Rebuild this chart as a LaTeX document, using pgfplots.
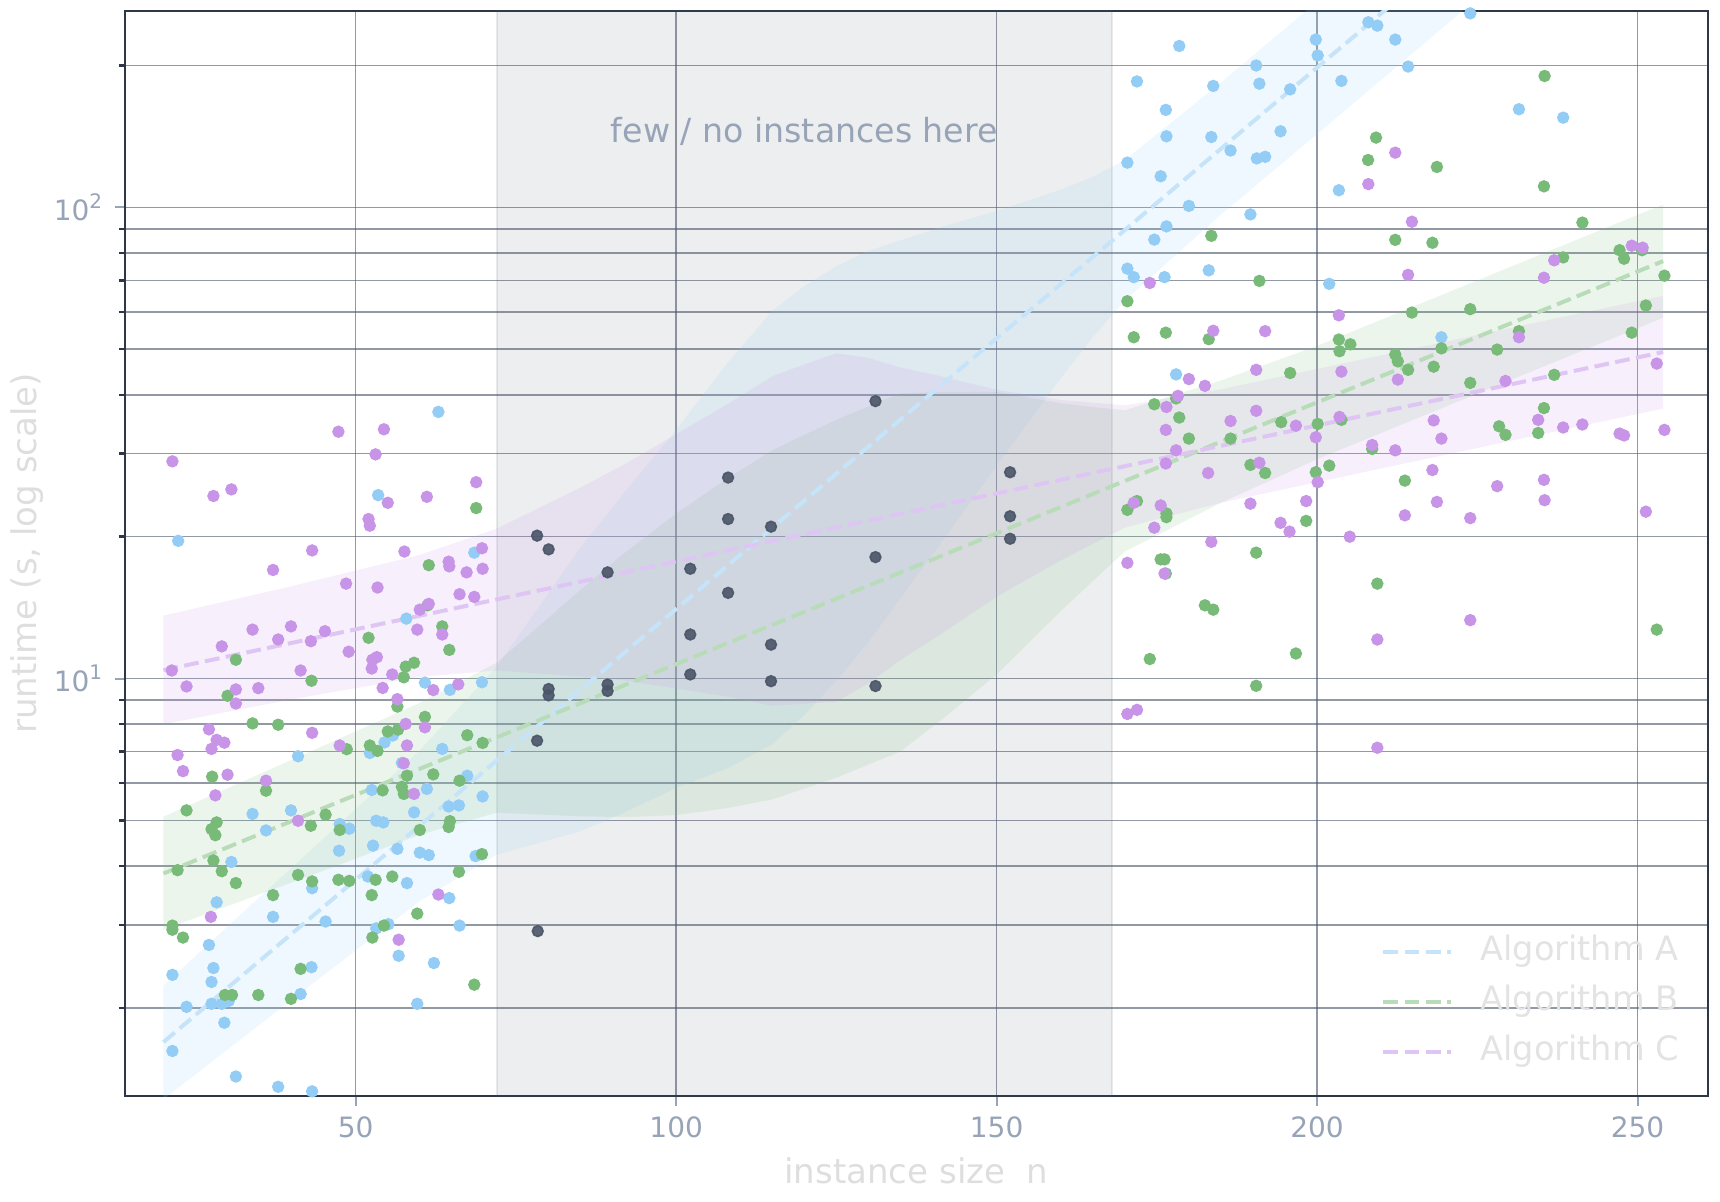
\documentclass[border=0pt]{standalone}
\usepackage{fontspec}
\setmainfont{DejaVu Sans}
\usepackage{pgfplots}
\usepackage{pgfplotstable}
\pgfplotsset{compat=1.18}
\definecolor{ptA}{HTML}{93CDF5}
\definecolor{ptB}{HTML}{78BB78}
\definecolor{ptC}{HTML}{C894E8}
\definecolor{lnA}{HTML}{C5E4FA}
\definecolor{lnB}{HTML}{B8DCB8}
\definecolor{lnC}{HTML}{DEC5F4}
\definecolor{dark}{HTML}{4A5568}
\definecolor{spine}{HTML}{2D3748}
\definecolor{ticklab}{HTML}{97A3B6}
\definecolor{labc}{HTML}{DEDEDE}
\definecolor{legc}{HTML}{E3E3E3}
\definecolor{annot}{HTML}{97A3B6}

\pgfplotstableread{
x y
21.4 2.35
21.4 1.62
23.6 2.01
27.1 2.72
27.8 2.43
27.5 2.27
27.5 2.04
29.1 2.04
30.2 2.07
29.5 1.86
28.3 3.35
30.6 4.08
31.3 1.43
33.9 5.16
36.0 4.76
37.1 3.12
37.9 1.36
39.9 5.25
41.0 6.84
41.4 2.14
43.1 2.44
43.2 3.59
43.2 1.33
45.3 3.05
47.4 4.31
47.5 4.91
49.0 4.80
51.9 3.80
52.2 6.95
52.5 5.80
52.7 4.42
53.2 4.99
54.3 4.95
53.2 2.95
55.1 3.01
54.5 7.32
55.8 7.57
56.5 4.35
56.7 2.58
57.2 6.62
58.0 3.68
59.1 5.20
59.6 2.04
60.0 4.27
61.4 4.22
61.1 5.83
62.2 2.49
63.5 7.09
64.5 5.35
64.6 3.42
66.1 5.38
66.2 2.99
67.4 6.22
68.7 4.20
69.8 5.62
62.9 36.8
22.3 19.6
53.5 24.5
57.9 13.4
68.5 18.5
60.8 9.8
64.7 9.46
69.7 9.82
178.5 220
171.9 185
176.4 161
176.5 141.5
170.4 124.4
175.6 116.4
180.0 100.7
183.8 181
183.5 141
186.5 132
190.5 200
191.0 183
195.8 178
194.3 145
190.6 127
191.9 128
189.6 96.6
176.5 91.1
174.6 85.4
170.4 74.1
171.4 71.1
176.2 71.1
183.1 73.5
178.0 44.2
199.8 227
200.1 210
203.8 185.5
208.0 247
209.4 243
212.2 227
214.2 199
203.4 108.7
201.9 68.8
219.4 53.0
231.5 161.5
238.4 155
223.9 258
}\tblA

\pgfplotstableread{
x y
21.4 2.99
21.4 2.93
23.05 2.82
22.2 3.92
23.6 5.25
27.6 6.19
28.3 4.95
27.5 4.79
28.1 4.65
27.8 4.11
29.1 3.90
31.3 3.68
33.9 8.03
37.9 7.98
36.0 5.78
37.1 3.47
41.0 3.83
41.4 2.42
43.0 4.87
43.2 3.71
45.3 5.14
47.5 4.77
47.3 3.74
49.0 3.72
48.6 7.08
52.2 7.21
53.4 7.02
52.5 3.47
53.1 3.74
52.6 2.82
54.4 2.99
54.2 5.79
55.0 7.72
56.6 7.79
56.5 8.72
55.7 3.80
57.2 5.89
57.5 5.69
58.0 6.22
59.6 3.17
60.0 4.77
60.8 8.29
62.1 6.26
64.5 4.84
64.7 4.98
66.1 3.89
66.2 6.07
67.4 7.58
68.5 2.24
69.8 7.30
69.7 4.24
29.6 2.13
30.7 2.13
34.8 2.13
39.9 2.09
68.8 23.0
61.4 17.4
63.5 12.9
64.6 11.5
52.0 12.2
43.1 9.89
31.3 10.96
30.0 9.19
57.8 10.6
59.1 10.8
57.5 10.06
61.2 14.3
235.5 190
209.2 140.6
207.96 126
218.7 121.8
235.4 110.8
183.5 87
241.4 92.8
212.2 85.3
218.0 84.1
238.4 78.3
247.2 81.1
247.9 77.8
250.7 81.1
254.2 71.6
191.0 69.8
170.4 63.2
251.3 61.9
214.8 59.8
223.9 60.8
171.4 53.0
176.4 54.2
183.1 52.5
231.5 54.6
249.1 54.2
203.4 52.4
205.2 51.2
203.5 49.5
219.4 50.2
228.1 49.9
212.2 48.7
212.6 47.1
214.2 45.2
218.2 45.9
195.8 44.5
223.9 42.4
237.0 44.1
174.6 38.2
178.0 39.3
178.5 35.8
180.0 32.3
186.5 32.3
194.4 35.0
200.1 34.7
203.8 35.4
235.4 37.5
228.4 34.3
229.4 32.9
234.5 33.2
208.6 30.7
189.6 28.4
191.9 27.3
199.8 27.4
201.9 28.3
213.7 26.3
171.9 23.8
170.4 22.8
176.5 22.4
176.5 22.0
198.3 21.6
190.5 18.5
175.6 17.9
176.2 17.9
176.4 16.7
209.4 15.9
182.5 14.3
183.8 14.0
253.0 12.7
173.9 11.0
196.7 11.3
190.5 9.65
}\tblB

\pgfplotstableread{
x y
27.1 7.80
28.3 7.41
29.5 7.31
27.5 7.09
22.2 6.88
23.05 6.36
30.0 6.25
28.1 5.65
36.0 6.07
41.0 4.99
43.2 7.67
47.5 7.21
57.8 8.01
60.8 7.88
58.0 7.21
57.5 6.61
59.1 5.69
62.9 3.48
56.7 2.79
27.4 3.12
21.4 28.9
27.8 24.4
30.6 25.2
47.3 33.4
54.4 33.8
53.1 29.9
55.0 23.6
52.0 21.8
52.2 21.1
61.1 24.3
68.8 26.1
43.2 18.7
37.1 17.0
57.6 18.6
48.5 15.9
53.4 15.6
64.5 17.7
64.6 17.3
69.7 18.9
67.3 16.8
69.8 17.1
66.2 15.1
68.5 14.9
61.4 14.4
60.0 14.0
59.6 12.7
63.5 12.4
29.1 11.7
33.9 12.7
37.9 12.1
39.9 12.9
43.0 12.0
45.2 12.6
48.9 11.4
53.3 11.1
52.6 10.96
52.5 10.5
41.4 10.4
21.3 10.4
23.6 9.62
31.3 9.48
34.8 9.54
31.3 8.85
55.7 10.2
54.2 9.55
62.1 9.45
66.0 9.72
56.5 9.04
212.2 130.6
208.0 112
214.8 93.2
214.2 71.9
237.0 77.2
235.4 70.9
249.1 82.9
250.8 82.1
173.9 69.1
203.4 59.0
183.8 54.7
191.9 54.6
231.5 53.0
180.0 43.2
182.5 41.8
190.5 45.2
203.8 44.8
212.6 43.1
229.4 42.8
253.0 46.6
178.3 39.8
176.5 37.7
190.5 37.0
186.5 35.2
176.4 33.7
196.7 34.4
203.5 35.9
199.8 32.5
178.0 30.5
176.4 28.6
183.0 27.3
191.0 28.7
218.2 35.3
219.4 32.3
234.5 35.4
238.4 34.1
241.4 34.6
247.2 33.1
247.9 32.8
254.2 33.7
208.6 31.3
212.2 30.5
200.1 26.1
218.0 27.7
235.4 26.4
228.1 25.6
218.7 23.7
235.5 23.9
213.7 22.2
223.9 21.9
251.3 22.6
171.4 23.6
175.6 23.3
174.6 20.9
189.6 23.5
198.3 23.8
194.3 21.4
195.7 20.5
205.1 20.0
183.5 19.5
170.4 17.6
176.2 16.7
223.9 13.3
209.4 12.1
170.4 8.41
171.9 8.58
209.4 7.13
}\tblC

\pgfplotstableread{
x y
78.3 20.1
80.1 18.8
89.3 16.8
78.3 7.38
78.4 2.91
80.1 9.50
80.1 9.21
89.3 9.71
89.3 9.41
102.2 17.1
102.2 12.4
102.2 10.2
108.1 26.7
108.1 21.8
108.1 15.2
114.8 21.0
114.8 11.8
114.8 9.87
131.1 38.8
131.1 18.1
131.1 9.64
152.1 27.4
152.1 22.1
152.1 19.8
}\tblD

\begin{document}
\begin{tikzpicture}
\useasboundingbox (-31.25pt,-26.25pt) rectangle (398.75pt,274pt);
\begin{axis}[
  at={(0pt,0pt)}, anchor=south west,
  width=395.75pt, height=271.25pt, scale only axis,
  xmin=14, xmax=261, ymin=1.3, ymax=261,
  ymode=log, log basis y=10,
  xtick={50,100,150,200,250},
  xticklabels={50,100,150,200,250},
  minor xtick={},
  ytick={10,100},
  yticklabels={10\textsuperscript{1},10\textsuperscript{2}},
  minor ytick={2,3,4,5,6,7,8,9,20,30,40,50,60,70,80,90,200},
  tick pos=left,
  grid=both,
  major grid style={draw=dark, draw opacity=0.6, line width=0.35pt},
  minor grid style={draw=dark, draw opacity=0.6, line width=0.35pt},
  tick align=outside,
  major tick length=2.5pt, minor tick length=1.5pt,
  major tick style={draw=ticklab, line width=0.5pt},
  minor tick style={draw=spine, line width=0.6pt},
  axis line style={draw=spine, line width=0.6pt},
  tick label style={font=\fontsize{7}{8}\selectfont, text=ticklab},
  xticklabel style={inner sep=0pt, yshift=-2.5pt},
  yticklabel style={inner sep=0pt, xshift=-2.5pt},
  xlabel={instance size\ \ n},
  ylabel={runtime (s, log scale)},
  label style={font=\fontsize{8.5}{10}\selectfont, text=labc},
  xlabel style={at={(axis description cs:0.5,-0.0691)}, anchor=center},
  ylabel style={at={(axis description cs:-0.0619,0.5)}, anchor=center},
  legend style={at={(axis description cs:0.9817,0.0868)}, anchor=east,
    draw=none, fill=none, inner sep=0pt, outer sep=0pt,
    font=\fontsize{8.4}{10}\selectfont, text=legc, row sep=4.5pt,
    nodes={inner sep=0pt, text height=6.2pt, text depth=1.8pt},
    /tikz/every odd column/.append style={column sep=6.75pt}},
  legend cell align=left,
  legend image code/.code={\draw[#1] (0pt,0pt) -- (17pt,0pt);},
  clip=true,
]
% shaded gap
\addplot[forget plot, fill=dark, fill opacity=0.1, draw=dark, draw opacity=0.12, line width=0.4pt]
  coordinates {(72,1) (72,1000) (168,1000) (168,1)} -- cycle;
% confidence bands
\addplot[forget plot, fill=ptA, fill opacity=0.15, draw=none] coordinates {
 (20,2.23) (40,3.97) (60,7.05) (72,10.6) (85,18.9) (92,24.9) (100,33.7) (108,46.7) (115,60.3) (120,68.0) (125,75.0) (130,80.8) (135,85.1) (142,91.3) (150,98.2) (155,103.4) (160,109) (165,116) (170,126) (185,184) (200,273) (230,605) (254,1167)
 (254,585) (230,317) (200,143) (185,96.5) (170,63.4) (165,53.0) (160,43.4) (155,35.0) (150,28.3) (142,19.97) (135,14.8) (130,11.95) (125,9.89) (120,8.37) (115,7.25) (108,6.45) (100,5.86) (92,5.20) (85,4.74) (72,4.23) (60,3.37) (40,2.08) (20,1.28)} -- cycle;
\addplot[forget plot, fill=ptB, fill opacity=0.14, draw=none] coordinates {
 (20,5.09) (40,6.72) (60,8.88) (72,10.8) (85,15.4) (92,18.5) (100,22.4) (108,26.6) (115,30.5) (120,32.9) (125,35.4) (130,37.8) (135,40.3) (142,40.6) (150,40.6) (155,39.5) (160,38.4) (165,37.7) (170,37.1) (185,42.9) (200,50.8) (230,74.6) (254,101.4)
 (254,58.3) (230,42.9) (200,29.2) (185,23.6) (170,18.6) (165,16.1) (160,13.9) (155,11.9) (150,10.2) (142,8.30) (135,7.0) (130,6.57) (125,6.16) (120,5.84) (115,5.54) (108,5.31) (100,5.13) (92,5.08) (85,5.10) (72,5.19) (60,4.66) (40,3.69) (20,2.93)} -- cycle;
\addplot[forget plot, fill=ptC, fill opacity=0.15, draw=none] coordinates {
 (20,13.6) (40,15.7) (60,18.3) (72,20.8) (85,25.4) (92,28.5) (100,33.0) (108,38.2) (115,43.8) (120,46.4) (125,49.0) (130,47.9) (135,45.7) (142,43.6) (150,41.0) (155,40.0) (160,39.0) (165,38.5) (170,38.0) (185,41.1) (200,45.4) (230,55.4) (254,64.9)
 (254,37.4) (230,31.9) (200,26.1) (185,23.6) (170,20.9) (165,19.3) (160,17.8) (155,16.3) (150,14.9) (142,12.6) (135,10.95) (130,9.77) (125,8.92) (120,8.84) (115,8.75) (108,9.15) (100,9.52) (92,9.90) (85,10.1) (72,10.4) (60,10.08) (40,9.03) (20,8.0)} -- cycle;
% trend lines
\addplot[lnA, line width=1pt, dash pattern=on 3.7pt off 1.6pt] coordinates {(20,1.692) (254,826)};
\addlegendentry{Algorithm A}
\addplot[lnB, line width=1pt, dash pattern=on 3.7pt off 1.6pt] coordinates {(20,3.858) (254,76.9)};
\addlegendentry{Algorithm B}
\addplot[lnC, line width=1pt, dash pattern=on 3.7pt off 1.6pt] coordinates {(20,10.42) (254,49.3)};
\addlegendentry{Algorithm C}
% points
\addplot[forget plot, only marks, mark=*, mark size=1.35pt, color=ptA, mark options={draw=ptA, fill=ptA}] table {\tblA};
\addplot[forget plot, only marks, mark=*, mark size=1.35pt, color=ptB, mark options={draw=ptB, fill=ptB}] table {\tblB};
\addplot[forget plot, only marks, mark=*, mark size=1.35pt, color=ptC, mark options={draw=ptC, fill=ptC}] table {\tblC};
\addplot[forget plot, only marks, mark=*, mark size=1.35pt, color=dark, mark options={draw=dark, fill=dark, opacity=0.9}] table {\tblD};
\node[text=annot, font=\fontsize{8.3}{10}\selectfont] at (axis cs:120,144.6) {few / no instances here};
\end{axis}
\end{tikzpicture}
\end{document}
